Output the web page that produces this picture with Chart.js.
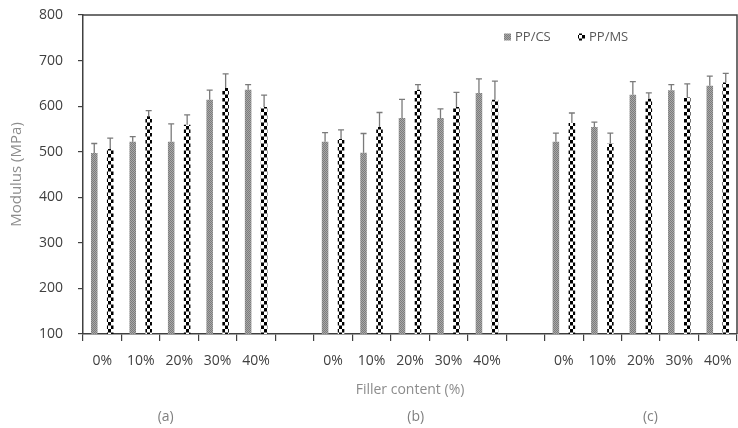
<!DOCTYPE html>
<html>
<head>
<meta charset="utf-8">
<script src="https://cdn.jsdelivr.net/npm/chart.js@4"></script>
<style>
  body { margin: 0; background: #fff; }
  .chartContainer { width: 738px; height: 428px; position: relative; }
</style>
</head>
<body>
<div class="chartContainer"><canvas id="chart"></canvas></div>
<script>
const fillers = ["0%", "10%", "20%", "30%", "40%"];
const groups = ["(a)", "(b)", "(c)"];
const yTicks = [100, 200, 300, 400, 500, 600, 700, 800];

// PP/CS
const csA = [497, 522, 522, 614, 636];
const csB = [522, 498, 574, 574, 629];
const csC = [522, 554, 625, 635, 645];
const csErrA = [21, 11, 39, 21, 11];
const csErrB = [20, 42, 41, 20, 31];
const csErrC = [19, 11, 29, 12, 21];

// PP/MS
const msA = [506, 578, 559, 640, 598];
const msB = [528, 554, 636, 598, 614];
const msC = [563, 518, 616, 619, 652];
const msErrA = [24, 12, 22, 31, 26];
const msErrB = [20, 32, 11, 32, 41];
const msErrC = [22, 23, 13, 30, 20];

// where (a) (b) (c) sit under the x axis, in category units
const groupPos = [1.65, 8.15, 14.25];

// join the three groups with an empty slot between them
function joinGroups(a, b, c, gap) {
  return [...a, gap, ...b, gap, ...c];
}
const labels = joinGroups(fillers, fillers, fillers, "");
const csData = joinGroups(csA, csB, csC, null);
const msData = joinGroups(msA, msB, msC, null);
const csErr = joinGroups(csErrA, csErrB, csErrC, null);
const msErr = joinGroups(msErrA, msErrB, msErrC, null);

function makePattern(kind) {
  const c = document.createElement("canvas");
  const g = c.getContext("2d");
  if (kind === "grey") {
    c.width = 2; c.height = 2;
    g.fillStyle = "#a8a8a8"; g.fillRect(0, 0, 2, 2);
    g.fillStyle = "#7c7c7c"; g.fillRect(0, 0, 1, 1); g.fillRect(1, 1, 1, 1);
  } else {
    c.width = 6; c.height = 7;
    g.fillStyle = "#fff"; g.fillRect(0, 0, 6, 7);
    g.fillStyle = "#000";
    g.fillRect(0, 0, 3, 3.5); g.fillRect(3, 3.5, 3, 3.5);
  }
  return g.createPattern(c, "repeat");
}

const greyFill = makePattern("grey");
const checkFill = makePattern("check");

const errorBars = {
  id: "errorBars",
  afterDatasetsDraw(chart) {
    const { ctx } = chart;
    const y = chart.scales.y;
    const errs = [csErr, msErr];
    ctx.save();
    ctx.strokeStyle = "#7a7a7a";
    ctx.lineWidth = 1.3;
    chart.data.datasets.forEach((ds, d) => {
      chart.getDatasetMeta(d).data.forEach((bar, i) => {
        const v = ds.data[i];
        if (v == null) return;
        const top = y.getPixelForValue(v + errs[d][i]);
        ctx.beginPath();
        ctx.moveTo(bar.x, bar.y);
        ctx.lineTo(bar.x, top);
        ctx.moveTo(bar.x - 3, top);
        ctx.lineTo(bar.x + 3, top);
        ctx.stroke();
      });
    });
    ctx.restore();
  },
};

const frameAndNotes = {
  id: "frameAndNotes",
  afterDraw(chart) {
    const { ctx, chartArea: a } = chart;
    const x = chart.scales.x;
    ctx.save();
    // top and right frame
    ctx.strokeStyle = "#404040";
    ctx.lineWidth = 1.5;
    ctx.beginPath();
    ctx.moveTo(a.left, a.top);
    ctx.lineTo(a.right, a.top);
    ctx.lineTo(a.right, a.bottom);
    ctx.stroke();

    // legend
    ctx.font = "13px 'Open Sans'";
    ctx.textBaseline = "middle";
    const ly = a.top + 22;
    const items = [
      { fill: greyFill, text: "PP/CS", x: a.right - 233 },
      { fill: checkFill, text: "PP/MS", x: a.right - 159 },
    ];
    items.forEach((it) => {
      ctx.fillStyle = it.fill;
      ctx.fillRect(it.x, ly - 3.5, 7, 7);
      ctx.fillStyle = "#595959";
      ctx.fillText(it.text, it.x + 11, ly);
    });

    // group captions
    ctx.font = "14px 'Open Sans'";
    ctx.textAlign = "center";
    ctx.fillStyle = "#7f7f7f";
    groups.forEach((g, i) => {
      ctx.fillText(g, x.getPixelForValue(groupPos[i]), 417);
    });
    ctx.restore();
  },
};

Chart.defaults.font.family = "'Open Sans', sans-serif";

new Chart(document.getElementById("chart"), {
  type: "bar",
  data: {
    labels,
    datasets: [
      { label: "PP/CS", data: csData, backgroundColor: greyFill },
      { label: "PP/MS", data: msData, backgroundColor: checkFill },
    ],
  },
  options: {
    responsive: true,
    maintainAspectRatio: false,
    animation: false,
    devicePixelRatio: 1,
    categoryPercentage: 0.83,
    barPercentage: 0.41,
    layout: { padding: { top: 15, right: 1, left: 0, bottom: 0 } },
    plugins: { legend: { display: false }, tooltip: { enabled: false } },
    scales: {
      x: {
        afterFit(s) { s.height = 94; s.paddingLeft = 0; s.paddingRight = 0; },
        grid: { offset: true, drawOnChartArea: false, tickLength: 7, color: "#404040", lineWidth: 1.2 },
        border: { color: "#404040", width: 1.5 },
        ticks: { autoSkip: false, maxRotation: 0, padding: 12, color: "#404040", font: { size: 14 } },
        title: {
          display: true,
          text: "Filler content (%)",
          color: "#8c8c8c",
          font: { size: 14 },
          padding: { bottom: 30 },
        },
      },
      y: {
        min: 100,
        max: 800,
        afterFit(s) { s.width = 83; s.paddingTop = 0; s.paddingBottom = 0; },
        afterBuildTicks(s) { s.ticks = yTicks.map((v) => ({ value: v })); },
        grid: { drawOnChartArea: false, tickLength: 5, color: "#404040", lineWidth: 1.2 },
        border: { color: "#404040", width: 1.5 },
        ticks: { padding: 15, color: "#404040", font: { size: 14 } },
        title: {
          display: true,
          text: "Modulus (MPa)",
          color: "#8c8c8c",
          font: { size: 15 },
          padding: { top: 8 },
        },
      },
    },
  },
  plugins: [errorBars, frameAndNotes],
});
</script>
</body>
</html>
